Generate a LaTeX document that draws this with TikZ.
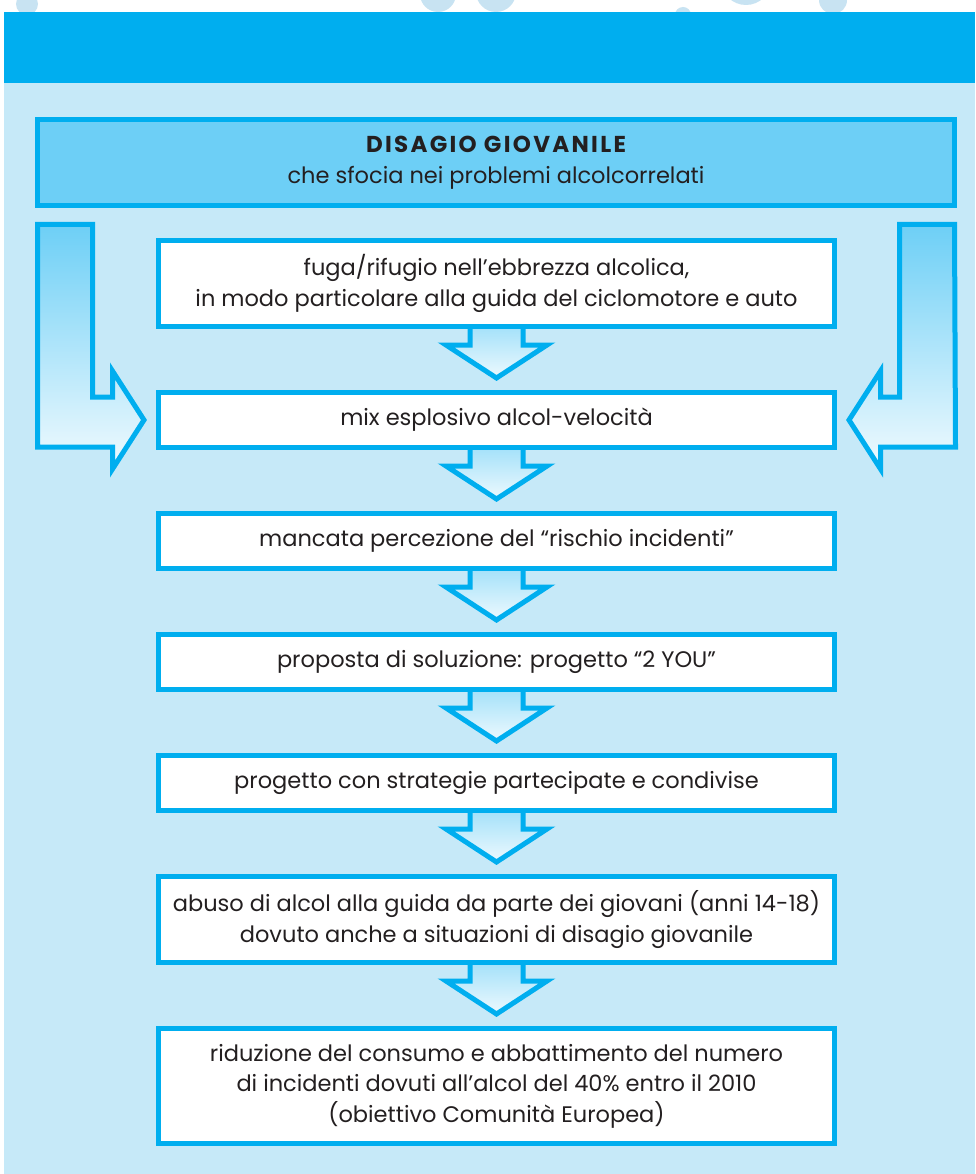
\documentclass[tikz,border=0pt]{standalone}
\usepackage{fontspec}
\setmainfont{Poppins}
\usepackage{xcolor}
\usetikzlibrary{calc, positioning}
\definecolor{cyanband}{HTML}{00AEEF}
\definecolor{panelblue}{HTML}{C6E9F8}
\definecolor{headblue}{HTML}{6DCFF6}
\definecolor{inkgray}{HTML}{231F20}
\definecolor{blobblue}{HTML}{C8E3F2}
\tikzset{
  flowbox/.style={draw=cyanband, line width=5pt, fill=white, inner sep=0pt,
    minimum width=676pt, minimum height=55pt, align=center, text=inkgray,
    font=\fontsize{22.5}{30.5}\selectfont},
  headbox/.style={flowbox, fill=headblue, minimum width=917pt, minimum height=86pt},
  downarrow/.style={draw=cyanband, line width=5pt, miter limit=4,
    top color=headblue!60!white, bottom color=headblue!12!white},
  sidearrow/.style={draw=cyanband, line width=5pt, miter limit=4,
    top color=headblue, bottom color=headblue!10!white}
}

\begin{document}
\begin{tikzpicture}[x=1pt, y=-1pt, node distance=61pt]
\useasboundingbox (0,0) rectangle (975,1174);
% page background
\fill[white] (0,0) rectangle (975,1174);
\fill[blobblue] (27,4) circle (11) (438,-6) circle (18) (496,-8) circle (20)
  (683,15) circle (8) (746,-20) circle (25) (833,0) circle (14);
\fill[cyanband] (4,12) rectangle (975,83);
\fill[panelblue] (4,83) rectangle (975,1174);

\node[headbox] (disagio) at (496,162.5)
  {{\fontsize{23}{29}\bfseries\addfontfeatures{LetterSpace=10}DISAGIO GIOVANILE}\\
   che sfocia nei problemi alcolcorrelati};

\node[flowbox, minimum height=86pt] (fuga) at (496.5,283.5)
  {fuga/rifugio nell’ebbrezza alcolica,\\ in modo particolare alla guida del ciclomotore e auto};
\node[flowbox, below=of fuga] (mix) {mix esplosivo alcol-velocità};
\node[flowbox, below=of mix] (rischio) {mancata percezione del “rischio incidenti”};
\node[flowbox, below=of rischio] (proposta) {proposta di soluzione: progetto “2 YOU”};
\node[flowbox, below=of proposta] (strategie) {progetto con strategie partecipate e condivise};
\node[flowbox, below=of strategie, minimum height=86pt] (abuso)
  {abuso di alcol alla guida da parte dei giovani (anni 14-18)\\ dovuto anche a situazioni di disagio giovanile};
\node[flowbox, below=of abuso, minimum height=115pt] (riduzione)
  {riduzione del consumo e abbattimento del numero\\ di incidenti dovuti all’alcol del 40\% entro il 2010\\ (obiettivo Comunità Europea)};

\foreach \a/\b in {fuga/mix, mix/rischio, rischio/proposta, proposta/strategie, strategie/abuso, abuso/riduzione}
  \draw[downarrow] ($(\a.south)+(-26.5,0)$) -- ++(0,16) -- ++(-24,0) -- ($(\b.north)+(0,-12)$)
    -- ($(\a.south)+(50.5,16)$) -- ++(-24,0) -- ++(0,-16);

% side arrows into the mix box
\draw[sidearrow] ($(disagio.south west)+(2.5,16.5)$) -- ++(55,0) |- ($(mix.west)+(-43.5,-23)$)
  -- ++(0,-26) -- ($(mix.west)+(-12,0)$) -- ($(mix.west)+(-43.5,49)$) -- ++(0,-22) -- ++(-75,0) -- cycle;
\draw[sidearrow] ($(disagio.south east)+(-2.5,16.5)$) -- ++(-55,0) |- ($(mix.east)+(43.5,-23)$)
  -- ++(0,-26) -- ($(mix.east)+(12,0)$) -- ($(mix.east)+(43.5,49)$) -- ++(0,-22) -- ++(75,0) -- cycle;
\end{tikzpicture}
\end{document}
